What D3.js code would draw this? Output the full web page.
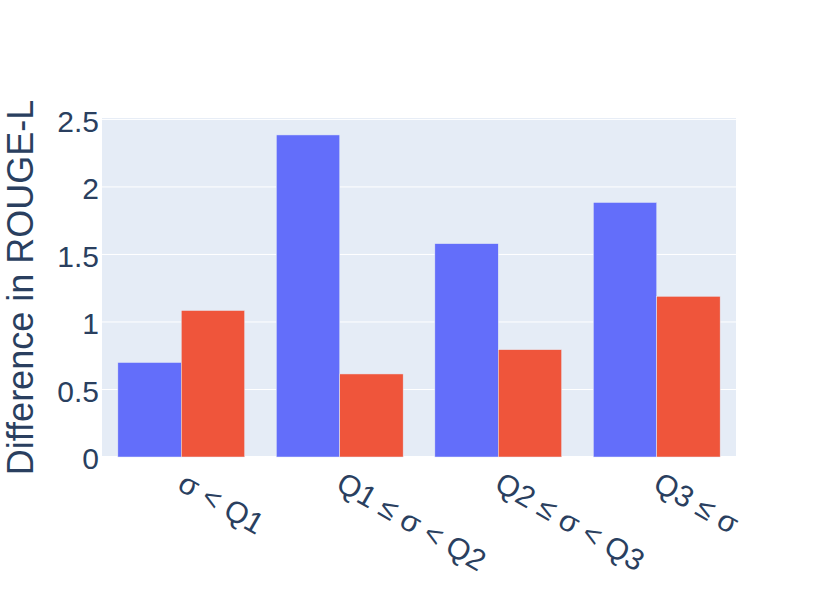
<!DOCTYPE html>
<html>
<head>
<meta charset="utf-8">
<script src="https://cdn.jsdelivr.net/npm/d3@7"></script>
<style>
  html, body { margin: 0; padding: 0; background: #fff; }
  svg { display: block; }
  text { font-family: "Liberation Sans", Arial, sans-serif; fill: #2a3f5f; }
</style>
</head>
<body>
<svg id="chart" width="831" height="593"></svg>
<script>
const categories = ["σ < Q1", "Q1 ≤ σ < Q2", "Q2 ≤ σ < Q3", "Q3 ≤ σ"];
const seriesA = [0.70, 2.385, 1.58, 1.885];
const seriesB = [1.085, 0.615, 0.795, 1.19];
const yTicks = [0, 0.5, 1, 1.5, 2, 2.5];
const yTickLabels = ["0", "0.5", "1", "1.5", "2", "2.5"];
const yTitle = "Difference in ROUGE-L";
const seriesNames = ["A", "B"];
const colors = ["#636efa", "#EF553B"];

const W = 831, H = 593;
const m = { left: 102, right: 95, top: 118, bottom: 136 };
const pw = W - m.left - m.right, ph = H - m.top - m.bottom;

const svg = d3.select("#chart");
const g = svg.append("g").attr("transform", `translate(${m.left},${m.top})`);

const yMax = d3.max([...seriesA, ...seriesB]) * 1.0526;
const x = d3.scaleBand().domain(categories).range([0, pw]).paddingInner(0.2).paddingOuter(0.1);
const x0 = d3.scaleBand().domain(categories).range([0, pw]).padding(0);
const xs = d3.scaleBand().domain(seriesNames).range([0, x.bandwidth()]);
const y = d3.scaleLinear().domain([0, yMax]).range([ph, 0]);

g.append("rect").attr("width", pw).attr("height", ph).attr("fill", "#E5ECF6");

g.selectAll(".grid").data(yTicks).join("line")
  .attr("x1", 0).attr("x2", pw)
  .attr("y1", d => y(d)).attr("y2", d => y(d))
  .attr("stroke", "#fff").attr("stroke-width", d => d === 0 ? 2 : 1);

const data = categories.map((c, i) => ({ c, vals: [seriesA[i], seriesB[i]] }));
const grp = g.selectAll(".grp").data(data).join("g")
  .attr("transform", d => `translate(${x0(d.c) + (x0.bandwidth() - x.bandwidth()) / 2},0)`);
grp.selectAll("rect").data(d => d.vals.map((v, j) => ({ v, s: seriesNames[j], j }))).join("rect")
  .attr("x", d => xs(d.s))
  .attr("width", xs.bandwidth())
  .attr("y", d => y(d.v))
  .attr("height", d => ph - y(d.v))
  .attr("fill", d => colors[d.j])
  .attr("stroke", "#E5ECF6").attr("stroke-width", 0.5);

// y tick labels
g.selectAll(".ytl").data(yTicks).join("text")
  .attr("x", -3).attr("y", d => y(d)).attr("dy", "0.41em")
  .attr("text-anchor", "end").attr("font-size", 30)
  .text((d, i) => yTickLabels[i]);

// x tick labels rotated
g.selectAll(".xtl").data(categories).join("text")
  .attr("transform", d => `translate(${x0(d) + x0.bandwidth() / 2},${ph + 23}) rotate(30)`)
  .attr("dy", "0.35em").attr("text-anchor", "start").attr("font-size", 30)
  .text(d => d);

// y title
svg.append("text")
  .attr("transform", `translate(33,${m.top + ph / 2}) rotate(-90)`)
  .attr("text-anchor", "middle").attr("font-size", 36)
  .text(yTitle);
</script>
</body>
</html>
